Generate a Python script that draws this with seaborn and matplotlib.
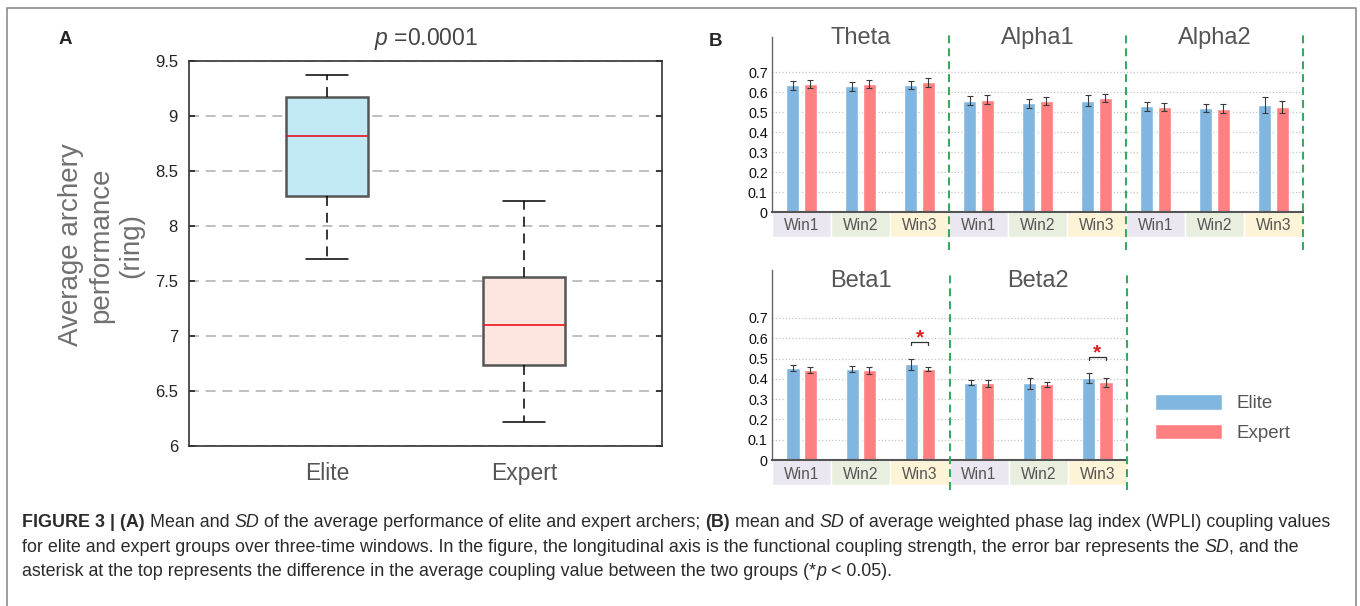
import matplotlib
matplotlib.use("Agg")
import numpy as np
import pandas as pd
import matplotlib.pyplot as plt
import seaborn as sns
from matplotlib.patches import Rectangle
from matplotlib.lines import Line2D

sns.set_theme(style="white")
plt.rcParams["font.family"] = ["Liberation Sans", "DejaVu Sans"]
plt.rcParams.update({
    "mathtext.fontset": "custom",
    "mathtext.rm": "Liberation Sans",
    "mathtext.it": "Liberation Sans:italic",
})

# ---------------- data ----------------
groups = ["Elite", "Expert"]
# five-number summaries: low whisker, Q1, median, Q3, high whisker
elite_scores = [7.70, 8.27, 8.82, 9.17, 9.37]
expert_scores = [6.22, 6.74, 7.10, 7.54, 8.23]
score_ticks = [6, 6.5, 7, 7.5, 8, 8.5, 9, 9.5]

windows = ["Win1", "Win2", "Win3"]
bands_top = ["Theta", "Alpha1", "Alpha2"]
bands_bottom = ["Beta1", "Beta2"]

theta_elite = [0.634, 0.629, 0.637]
theta_expert = [0.642, 0.642, 0.648]
theta_elite_sd = [0.023, 0.023, 0.020]
theta_expert_sd = [0.020, 0.020, 0.023]

alpha1_elite = [0.557, 0.544, 0.557]
alpha1_expert = [0.562, 0.554, 0.569]
alpha1_elite_sd = [0.024, 0.022, 0.027]
alpha1_expert_sd = [0.022, 0.019, 0.020]

alpha2_elite = [0.529, 0.519, 0.535]
alpha2_expert = [0.525, 0.517, 0.525]
alpha2_elite_sd = [0.023, 0.019, 0.040]
alpha2_expert_sd = [0.022, 0.021, 0.028]

beta1_elite = [0.453, 0.448, 0.471]
beta1_expert = [0.442, 0.442, 0.448]
beta1_elite_sd = [0.017, 0.013, 0.026]
beta1_expert_sd = [0.015, 0.017, 0.012]

beta2_elite = [0.381, 0.379, 0.404]
beta2_expert = [0.377, 0.372, 0.382]
beta2_elite_sd = [0.012, 0.027, 0.025]
beta2_expert_sd = [0.015, 0.013, 0.023]

wpli_ticks = [0, 0.1, 0.2, 0.3, 0.4, 0.5, 0.6, 0.7]

# significant differences (band, window) and the bracket height
sig_cells = [("Beta1", "Win3"), ("Beta2", "Win3")]
sig_bracket_y = [0.580, 0.507]

means = {
    "Theta": {"Elite": theta_elite, "Expert": theta_expert},
    "Alpha1": {"Elite": alpha1_elite, "Expert": alpha1_expert},
    "Alpha2": {"Elite": alpha2_elite, "Expert": alpha2_expert},
    "Beta1": {"Elite": beta1_elite, "Expert": beta1_expert},
    "Beta2": {"Elite": beta2_elite, "Expert": beta2_expert},
}
sds = {
    "Theta": {"Elite": theta_elite_sd, "Expert": theta_expert_sd},
    "Alpha1": {"Elite": alpha1_elite_sd, "Expert": alpha1_expert_sd},
    "Alpha2": {"Elite": alpha2_elite_sd, "Expert": alpha2_expert_sd},
    "Beta1": {"Elite": beta1_elite_sd, "Expert": beta1_expert_sd},
    "Beta2": {"Elite": beta2_elite_sd, "Expert": beta2_expert_sd},
}

# ---------------- style ----------------
BOX_COLORS = {"Elite": "#c2e9f6", "Expert": "#fde6df"}
BAR_COLORS = {"Elite": "#80b6e0", "Expert": "#ff8080"}
WIN_COLORS = {"Win1": "#ebe7f0", "Win2": "#e8efdf", "Win3": "#fdf3d6"}
GREEN = "#3aa860"
GRAY_TXT = "#555555"

W, H = 1360, 606
fig = plt.figure(figsize=(W / 100, H / 100), dpi=100)


def px_axes(left, top, right, bottom):
    return fig.add_axes([left / W, 1 - bottom / H, (right - left) / W, (bottom - top) / H])


# ---------------- panel A ----------------
axA = px_axes(189, 61, 662, 446)
box_df = pd.DataFrame({
    "group": ["Elite"] * len(elite_scores) + ["Expert"] * len(expert_scores),
    "score": elite_scores + expert_scores,
})
sns.boxplot(
    data=box_df, x="group", y="score", hue="group", order=groups, palette=BOX_COLORS,
    legend=False, width=0.42, whis=(0, 100), saturation=1, showfliers=False,
    linecolor="#555555", linewidth=1.8,
    medianprops=dict(color="#e8141c", linewidth=1.2),
    whiskerprops=dict(color="black", linewidth=1.1, linestyle=(0, (6.5, 4.5))),
    capprops=dict(color="black", linewidth=1.1),
    ax=axA,
)
axA.set_xlim(-0.7, 1.7)
axA.set_ylim(6, 9.5)
axA.set_yticks(score_ticks)
axA.set_yticklabels([f"{v:g}" for v in score_ticks])
axA.yaxis.grid(True, color="#b4b4b4", linewidth=1.2, linestyle=(0, (6, 4)))
axA.set_axisbelow(True)
for sp in axA.spines.values():
    sp.set_visible(True)
    sp.set_color("#333333")
    sp.set_linewidth(1.2)
axA.tick_params(axis="y", direction="in", length=4, left=True, right=True,
                labelsize=12, labelcolor="#222222", pad=8)
axA.tick_params(axis="x", length=0, labelsize=16.5, labelcolor=GRAY_TXT, pad=11.5)
axA.set_xlabel("")
axA.set_ylabel("")
axA.set_title("$p$ =0.0001", fontsize=16.5, color="#444444", pad=11.5)
fig.text(101 / W, 1 - 245 / H, "Average archery\nperformance\n(ring)", rotation=90,
         ha="center", va="center", multialignment="center", fontsize=20, color="#707070",
         linespacing=1.2)

# ---------------- panel B ----------------
def band_frame(bands):
    rows = []
    for b in bands:
        for g in groups:
            for w, m, s in zip(windows, means[b][g], sds[b][g]):
                rows.append({"cell": f"{b}-{w}", "group": g, "wpli": m, "sd": s})
    return pd.DataFrame(rows)


def draw_row(ax, bands, ytop, title_y, line_lo, line_hi, legend):
    df = band_frame(bands)
    order = [f"{b}-{w}" for b in bands for w in windows]
    sns.barplot(data=df, x="cell", y="wpli", hue="group", order=order, hue_order=groups,
                palette=BAR_COLORS, width=0.58, gap=0.24, saturation=1, errorbar=None,
                legend=legend, ax=ax)
    centers = {}
    for g, cont in zip(groups, ax.containers):
        sub = df[df["group"] == g].set_index("cell").loc[order]
        xs = [p.get_x() + p.get_width() / 2 for p in cont]
        centers[g] = dict(zip(order, xs))
        ax.errorbar(xs, sub["wpli"], yerr=sub["sd"], fmt="none", ecolor="#3a3a3a",
                    elinewidth=0.8, capsize=2, capthick=0.8, zorder=5)
    ax.set_xlim(-0.5, len(order) - 0.5)
    ax.set_ylim(0, ytop)
    ax.set_yticks(wpli_ticks)
    ax.set_yticklabels([f"{v:g}" for v in wpli_ticks])
    ax.yaxis.grid(True, color="#c4c4c4", linewidth=0.9, linestyle=":")
    ax.set_axisbelow(True)
    ax.set_xticks([])
    ax.set_xlabel("")
    ax.set_ylabel("")
    ax.tick_params(axis="y", length=0, labelsize=10.4, labelcolor="#111111", pad=3)
    for side in ["top", "right"]:
        ax.spines[side].set_visible(False)
    ax.spines["left"].set_color("#666666")
    ax.spines["left"].set_linewidth(1.0)
    ax.spines["bottom"].set_color("#555555")
    ax.spines["bottom"].set_linewidth(1.5)
    ax.spines["bottom"].set_zorder(6)

    # window bands under the axis
    for i, cell in enumerate(order):
        w = windows[i % len(windows)]
        ax.add_patch(Rectangle((i - 0.5, -0.125), 1, 0.125, facecolor=WIN_COLORS[w],
                               edgecolor="white", linewidth=1, clip_on=False, zorder=1))
        ax.text(i, -0.0625, w, ha="center", va="center_baseline", fontsize=11.2,
                color=GRAY_TXT, clip_on=False)

    # band titles and green separators
    for j, b in enumerate(bands):
        ax.text(3 * j + 1, title_y, b, ha="center", va="baseline", fontsize=17, color=GRAY_TXT)
        ax.axvline(3 * j + 2.5, line_lo, line_hi, color=GREEN, linewidth=1.5,
                   dashes=(3.8, 2.4), clip_on=False, zorder=7)

    # significance brackets
    for (b, w), by in zip(sig_cells, sig_bracket_y):
        cell = f"{b}-{w}"
        if cell not in order:
            continue
        xb, xr = centers["Elite"][cell], centers["Expert"][cell]
        ax.plot([xb, xb, xr, xr], [by - 0.014, by, by, by - 0.014], color="#333333",
                linewidth=0.9, zorder=6)
        ax.text((xb + xr) / 2, by - 0.026, "*", ha="center", va="bottom", fontsize=15,
                fontweight="bold", color="#e02020")


axB1 = px_axes(772, 37, 1303, 212)
draw_row(axB1, bands_top, 0.875, 0.84, -0.217, 1.01, legend=False)
axB2 = px_axes(772, 270, 1127, 460)
draw_row(axB2, bands_bottom, 0.936, 0.85, -0.158, 0.984, legend=True)
sns.move_legend(axB2, "upper left", bbox_to_anchor=(1155 / W, 1 - 394 / H),
                bbox_transform=fig.transFigure, frameon=False, title=None, fontsize=13.5,
                handlelength=3.57, handleheight=0.9, labelspacing=0.6, handletextpad=0.8,
                borderpad=0, borderaxespad=0, labelcolor=GRAY_TXT)

# panel letters
fig.text(65 / W, 1 - 39 / H, "A", fontsize=13.5, fontweight="bold", ha="center", va="center")
fig.text(716 / W, 1 - 41 / H, "B", fontsize=13.5, fontweight="bold", ha="center", va="center")

# outer frame (open at the bottom)
x0, x1, yt = 7 / W, 1356 / W, 1 - 8 / H
fig.add_artist(Line2D([x0, x0, x1, x1], [0, yt, yt, 0], transform=fig.transFigure,
                      color="#8c8c8c", linewidth=1.2))

# ---------------- caption ----------------
renderer = fig.canvas.get_renderer()


def seg_width(s, **kw):
    t = fig.text(0, 0, s + "|", **kw)
    w1 = t.get_window_extent(renderer).width
    t.set_text("|")
    w2 = t.get_window_extent(renderer).width
    t.remove()
    return w1 - w2


def seg_kw(style, size):
    kw = dict(fontsize=size, color="#2b2b2b")
    if style == "b":
        kw["fontweight"] = "bold"
    elif style == "i":
        kw["fontstyle"] = "italic"
    return kw


caption = [
    [("FIGURE 3 | (A)", "b"), (" Mean and ", "n"), ("SD", "i"),
     (" of the average performance of elite and expert archers; ", "n"), ("(B)", "b"),
     (" mean and ", "n"), ("SD", "i"),
     (" of average weighted phase lag index (WPLI) coupling values", "n")],
    [("for elite and expert groups over three-time windows. In the figure, the longitudinal "
      "axis is the functional coupling strength, the error bar represents the ", "n"),
     ("SD", "i"), (", and the", "n")],
    [("asterisk at the top represents the difference in the average coupling value between "
      "the two groups (*", "n"), ("p", "i"), (" < 0.05).", "n")],
]
cap_left, cap_right = 22, 1334
base_size = 10
w_line1 = sum(seg_width(s, **seg_kw(st, base_size)) for s, st in caption[0])
cap_size = base_size * (cap_right - cap_left) / w_line1
baselines = [527, 552, 576]
for line, yb in zip(caption, baselines):
    x = cap_left
    for s, st in line:
        kw = seg_kw(st, cap_size)
        fig.text(x / W, 1 - yb / H, s, va="baseline", ha="left", **kw)
        x += seg_width(s, **kw)

fig.savefig("out.png", dpi=100)
